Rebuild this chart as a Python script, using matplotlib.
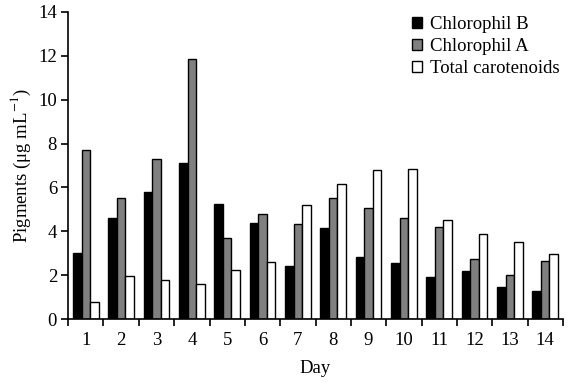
import numpy as np
import matplotlib
matplotlib.use('Agg')
import matplotlib.pyplot as plt

days = list(range(1, 15))
chl_b = [3.0, 4.6, 5.8, 7.1, 5.25, 4.4, 2.4, 4.15, 2.85, 2.55, 1.9, 2.2, 1.48, 1.3]
chl_a = [7.7, 5.5, 7.3, 11.85, 3.7, 4.8, 4.35, 5.52, 5.05, 4.6, 4.22, 2.73, 2.02, 2.64]
carot = [0.8, 1.95, 1.8, 1.6, 2.25, 2.6, 5.2, 6.15, 6.8, 6.85, 4.52, 3.9, 3.52, 2.95]

plt.rcParams['font.family'] = ['Liberation Serif', 'DejaVu Serif']
plt.rcParams['font.size'] = 13.5
plt.rcParams['mathtext.fontset'] = 'stix'

fig = plt.figure(figsize=(5.68, 3.85), dpi=100)
ax = fig.add_axes([0.12, 0.171, 0.871, 0.798])

x = np.array(days)
w = 0.24
ax.bar(x - w, chl_b, w, color='black', edgecolor='black', linewidth=1.0, label='Chlorophil B')
ax.bar(x, chl_a, w, color='#808080', edgecolor='black', linewidth=1.0, label='Chlorophil A')
ax.bar(x + w, carot, w, color='white', edgecolor='black', linewidth=1.0, label='Total carotenoids')

ax.set_xlim(0.5, 14.5)
ax.set_ylim(0, 14)
ax.set_yticks(range(0, 15, 2))
ax.set_xticks(days)
ax.set_xticks(np.arange(0.5, 15, 1), minor=True)
ax.tick_params(axis='x', which='major', length=0, pad=9)
ax.tick_params(axis='x', which='minor', length=5, width=1.2, direction='out')
ax.tick_params(axis='y', length=5, width=1.2, direction='out', pad=3)
for s in ['top', 'right']:
    ax.spines[s].set_visible(False)
for s in ['left', 'bottom']:
    ax.spines[s].set_linewidth(1.2)

ax.set_xlabel('Day', labelpad=8)
ax.set_ylabel('Pigments (μg mL$^{-1}$)', labelpad=4)

ax.legend(loc='upper right', bbox_to_anchor=(1.012, 1.017), frameon=False,
          handlelength=0.55, handleheight=0.55, handletextpad=0.4,
          labelspacing=0.27, borderaxespad=0.1)

fig.savefig('out.png', dpi=100)
